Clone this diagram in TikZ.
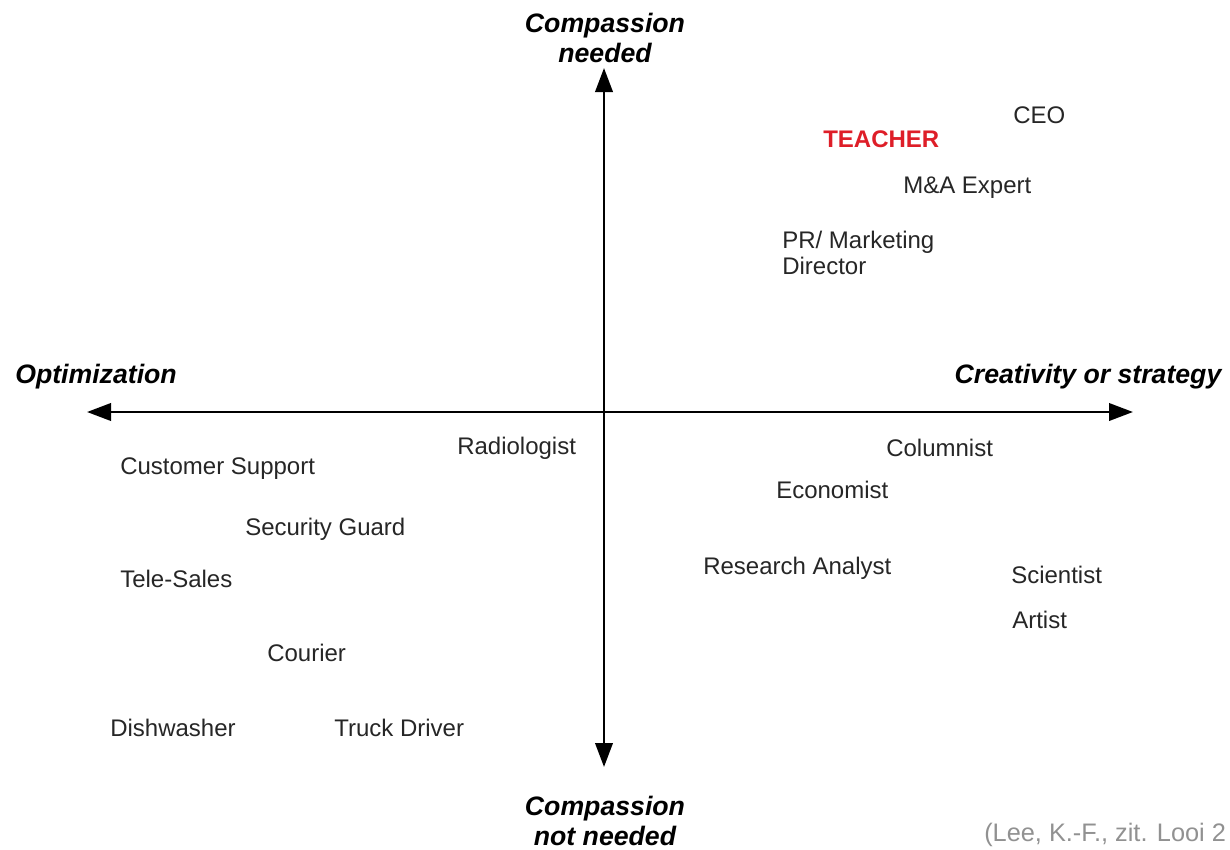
\documentclass[tikz,border=0pt]{standalone}
\usepackage{fontspec}
\setmainfont{Liberation Sans}
\usetikzlibrary{arrows.meta}
\definecolor{txt}{RGB}{38,38,38}
\definecolor{teachred}{RGB}{222,30,40}
\definecolor{citegray}{RGB}{145,145,145}
\tikzset{
  axis/.style={line width=2.1pt, black, {Triangle[length=18pt,width=13pt]}-{Triangle[length=18pt,width=13pt]}},
  axislabel/.style={font=\fontsize{20}{23}\selectfont\bfseries\itshape, text=black, align=center, inner sep=0pt},
  job/.style={font=\fontsize{18}{20}\selectfont, text=txt, anchor=west, inner sep=0pt, align=left},
  hot/.style={job, font=\fontsize{18}{20}\selectfont\bfseries, text=teachred},
  cite/.style={font=\fontsize{19}{21}\selectfont, text=citegray, anchor=west, inner sep=0pt}
}
\begin{document}
\begin{tikzpicture}[x=0.75pt,y=-0.75pt]
\useasboundingbox (0,0) rectangle (1230,849);
\clip (0,0) rectangle (1230,849);
% axis end points
\coordinate (top) at (604,68);
\coordinate (bottom) at (604,767);
\coordinate (left) at (87,412);
\coordinate (right) at (1133,412);
\draw[axis] (left) -- (right);
\draw[axis] (top) -- (bottom);
% axis labels
\node[axislabel] (up) at (605,38) {Compassion\\needed};
\node[axislabel] (down) at (605,821) {Compassion\\not needed};
\node[axislabel] (opt) at (96,377) {Optimization};
\node[axislabel] (cre) at (1088,377) {Creativity or strategy};
% jobs
\node[job] (ceo) at (1013,115) {CEO};
\node[hot] (teacher) at (823,139) {TEACHER};
\node[job] (ma) at (903,188) {M\&A Expert};
\node[job] (pr) at (782,253) {PR/ Marketing\\Director};
\node[job] (radio) at (457,448) {Radiologist};
\node[job] (column) at (886,448) {Columnist};
\node[job] (econ) at (776,490) {Economist};
\node[job] (research) at (703,568) {Research Analyst};
\node[job] (sci) at (1011,575) {Scientist};
\node[job] (artist) at (1012,620) {Artist};
\node[job] (custsup) at (120,469) {Customer Support};
\node[job] (security) at (245,529) {Security Guard};
\node[job] (tele) at (120,579) {Tele-Sales};
\node[job] (courier) at (267,653) {Courier};
\node[job] (dish) at (110,728) {Dishwasher};
\node[job] (truck) at (334,728) {Truck Driver};
% citation
\node[cite] (citation) at (984,835) {(Lee, K.-F., zit. Looi 2};
\end{tikzpicture}
\end{document}
